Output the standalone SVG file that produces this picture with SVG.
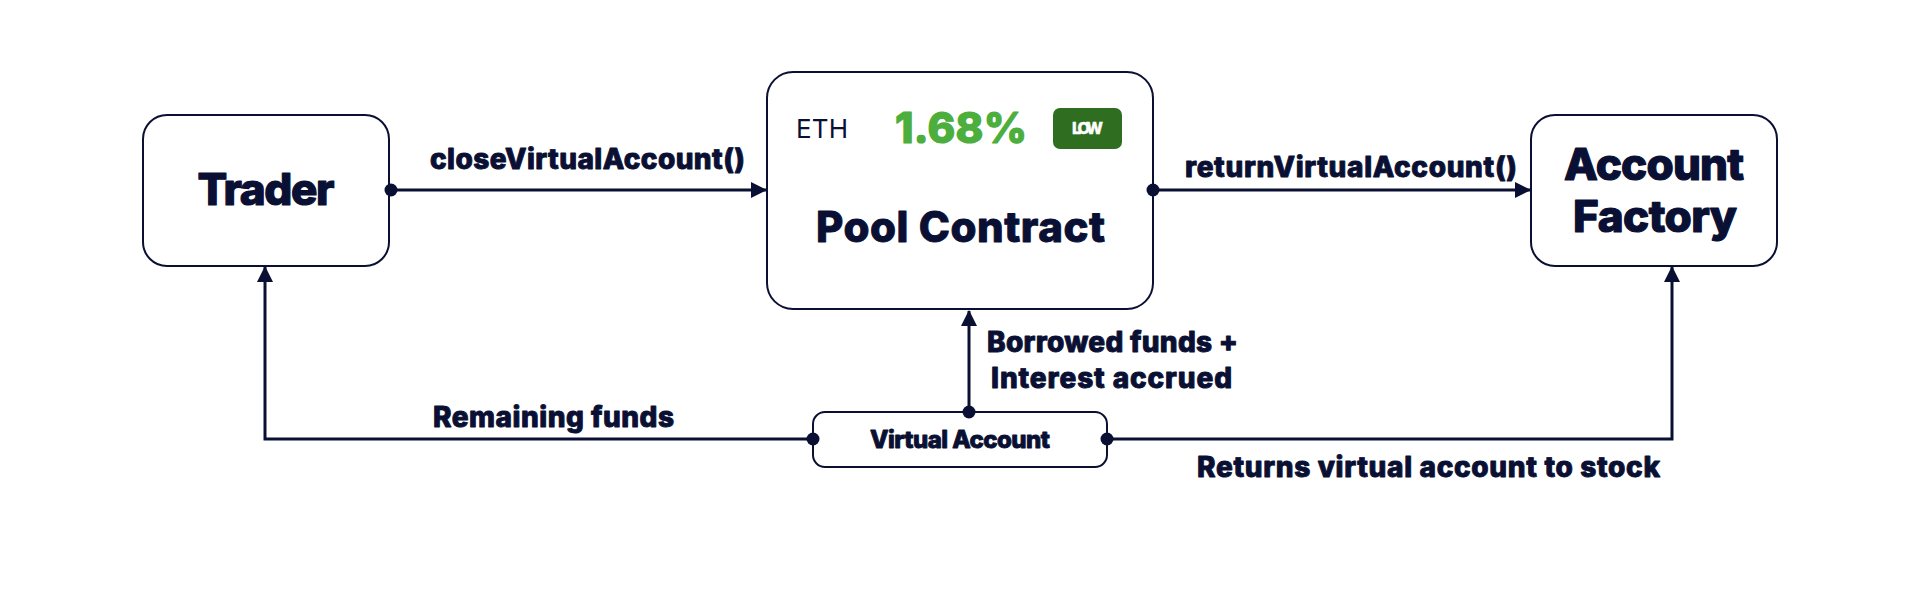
<svg xmlns="http://www.w3.org/2000/svg" width="1920" height="600" viewBox="0 0 1920 600">
<style>
.node{fill:#ffffff;stroke:#0a1033;stroke-width:2}
.t{font-family:Inter,"Liberation Sans",sans-serif;font-weight:800;fill:#0a1033;stroke:#0a1033;stroke-width:0.9;stroke-linejoin:round}
.big{font-size:44px;text-anchor:middle;stroke-width:1.2}
.lbl{font-size:28px}
.conn{fill:none;stroke:#0a1033;stroke-width:3}
.dot{fill:#0a1033}
</style>
<defs>
<marker id="arr" markerUnits="userSpaceOnUse" markerWidth="16" markerHeight="16" viewBox="0 0 16 16" refX="15" refY="8" orient="auto">
<path d="M0,0 L16,8 L0,16 Z" fill="#0a1033"/>
</marker>
</defs>
<rect width="1920" height="600" fill="#ffffff"/>
<g id="trader">
<rect class="node" x="143" y="115" width="246" height="151" rx="24"/>
<text class="t big" x="266" y="205" textLength="137">Trader</text>
</g>
<g id="pool-contract">
<rect class="node" x="767" y="72" width="386" height="237" rx="26"/>
<text x="796" y="138" font-family="Inter,'Liberation Sans',sans-serif" font-size="26" font-weight="400" fill="#0a1033" textLength="52">ETH</text>
<text x="895" y="143" font-family="Inter,'Liberation Sans',sans-serif" font-size="42" font-weight="800" fill="#4cae3c" stroke="#4cae3c" stroke-width="1.2" stroke-linejoin="round" textLength="132">1.68%</text>
<rect x="1053" y="108" width="69" height="41" rx="7" fill="#2f6e20"/>
<text x="1087.5" y="134" font-family="Inter,'Liberation Sans',sans-serif" font-size="16" font-weight="800" fill="#ffffff" stroke="#ffffff" stroke-width="0.4" text-anchor="middle" textLength="31">LOW</text>
<text class="t" x="960.5" y="242" font-size="42" text-anchor="middle" stroke-width="1.2" textLength="289">Pool Contract</text>
</g>
<g id="account-factory">
<rect class="node" x="1531" y="115" width="246" height="151" rx="24"/>
<text class="t big" x="1654" y="180" textLength="180">Account</text>
<text class="t big" x="1655" y="232" textLength="164">Factory</text>
</g>
<g id="virtual-account">
<rect class="node" x="813" y="412" width="294" height="55" rx="12"/>
<text class="t" x="960" y="448" font-size="24" text-anchor="middle" stroke-width="0.7" textLength="180">Virtual Account</text>
</g>
<g id="connectors">
<path class="conn" d="M391,190 H766" marker-end="url(#arr)"/>
<path class="conn" d="M1153,190 H1530" marker-end="url(#arr)"/>
<path class="conn" d="M969,412 V311" marker-end="url(#arr)"/>
<path class="conn" d="M813,439 H265 V267" marker-end="url(#arr)"/>
<path class="conn" d="M1107,439 H1672 V267" marker-end="url(#arr)"/>
<circle class="dot" cx="391" cy="190" r="6.5"/>
<circle class="dot" cx="1153" cy="190" r="6.5"/>
<circle class="dot" cx="969" cy="412" r="6.5"/>
<circle class="dot" cx="813" cy="439" r="6.5"/>
<circle class="dot" cx="1107" cy="439" r="6.5"/>
<text class="t lbl" x="430" y="169" textLength="315">closeVirtualAccount()</text>
<text class="t lbl" x="1185" y="177" textLength="332">returnVirtualAccount()</text>
<text class="t lbl" x="987" y="352" textLength="251">Borrowed funds +</text>
<text class="t lbl" x="991" y="388" textLength="241">Interest accrued</text>
<text class="t lbl" x="433" y="427" textLength="241">Remaining funds</text>
<text class="t lbl" x="1197" y="477" textLength="463">Returns virtual account to stock</text>
</g>
</svg>
